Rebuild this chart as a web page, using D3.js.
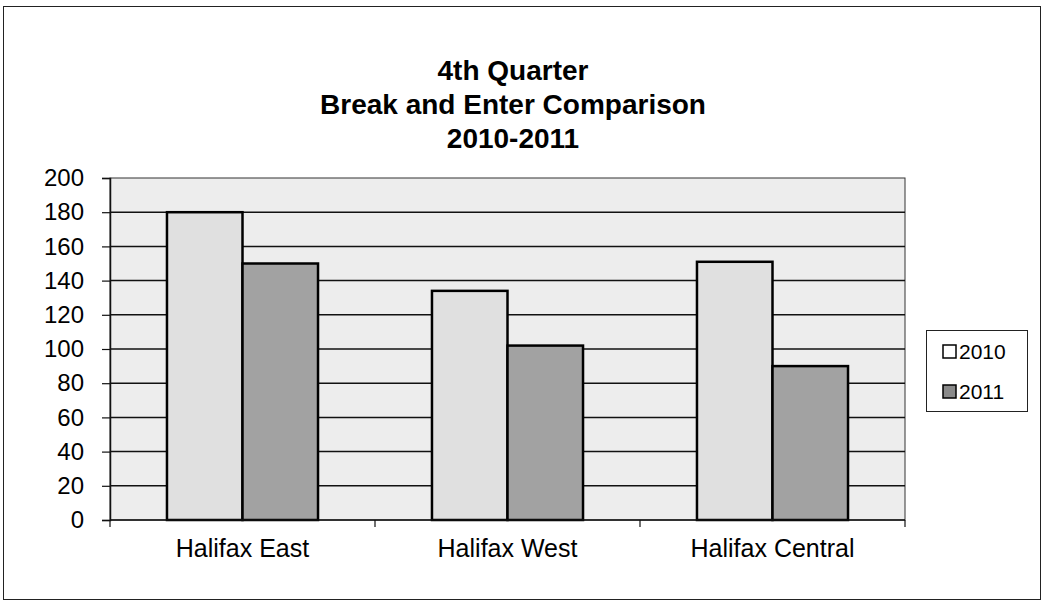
<!DOCTYPE html>
<html>
<head>
<meta charset="utf-8">
<script src="https://cdn.jsdelivr.net/npm/d3@7"></script>
<style>
  body { margin: 0; background: #fff; }
  text { font-family: "Liberation Sans", Arial, sans-serif; fill: #000; }
</style>
</head>
<body>
<svg id="chart"></svg>
<script>
// chart data
var categories = ["Halifax East", "Halifax West", "Halifax Central"];
var seriesNames = ["2010", "2011"];
var values2010 = [180, 134, 151];
var values2011 = [150, 102, 90];
var yTicks = [0, 20, 40, 60, 80, 100, 120, 140, 160, 180, 200];
var titleLines = ["4th Quarter", "Break and Enter Comparison", "2010-2011"];

var width = 1044, height = 611;
var plot = { left: 110, right: 905, top: 178, bottom: 520 };
var fills = { "2010": "#e0e0e0", "2011": "#a2a2a2" };

var svg = d3.select("#chart").attr("width", width).attr("height", height);

// outer chart frame
svg.append("rect")
    .attr("x", 3.5).attr("y", 6.5)
    .attr("width", 1037).attr("height", 593)
    .attr("fill", "#fff").attr("stroke", "#222").attr("stroke-width", 1);

// title
svg.selectAll("text.title")
    .data(titleLines)
    .enter().append("text")
    .attr("class", "title")
    .attr("x", 513)
    .attr("y", function(d, i) { return 80 + i * 34; })
    .attr("text-anchor", "middle")
    .attr("font-size", 28)
    .attr("font-weight", "bold")
    .text(function(d) { return d; });

// scales
var y = d3.scaleLinear().domain([0, 200]).range([plot.bottom, plot.top]);
var x0 = d3.scaleBand().domain(categories)
    .range([plot.left, plot.right])
    .paddingInner(0.43).paddingOuter(0.215);
var x1 = d3.scaleBand().domain(seriesNames).range([0, x0.bandwidth()]);

// plot area background
svg.append("rect")
    .attr("x", plot.left).attr("y", plot.top)
    .attr("width", plot.right - plot.left).attr("height", plot.bottom - plot.top)
    .attr("fill", "#ededed").attr("stroke", "#333").attr("stroke-width", 1);

// gridlines
svg.append("g")
    .selectAll("line")
    .data(yTicks.filter(function(d) { return d > 0 && d < 200; }))
    .enter().append("line")
    .attr("x1", plot.left).attr("x2", plot.right)
    .attr("y1", function(d) { return y(d); })
    .attr("y2", function(d) { return y(d); })
    .attr("stroke", "#111").attr("stroke-width", 1.5);

// y axis
var yAxis = d3.axisLeft(y).tickValues(yTicks).tickSize(8).tickPadding(18);
var gy = svg.append("g").attr("transform", "translate(" + plot.left + ",0)").call(yAxis);
gy.select(".domain").attr("stroke", "#111").attr("stroke-width", 1.5);
gy.selectAll(".tick line").attr("stroke", "#111").attr("stroke-width", 1.2);
gy.selectAll(".tick text")
    .attr("font-size", 24)
    .attr("font-family", "Liberation Sans, Arial, sans-serif")
    .attr("fill", "#000");

// bars
var groups = svg.append("g")
    .selectAll("g")
    .data(categories)
    .enter().append("g")
    .attr("transform", function(d) { return "translate(" + x0(d) + ",0)"; });

groups.selectAll("rect")
    .data(function(d, i) {
        return [
            { series: "2010", value: values2010[i] },
            { series: "2011", value: values2011[i] }
        ];
    })
    .enter().append("rect")
    .attr("x", function(d) { return x1(d.series); })
    .attr("y", function(d) { return y(d.value); })
    .attr("width", x1.bandwidth())
    .attr("height", function(d) { return y(0) - y(d.value); })
    .attr("fill", function(d) { return fills[d.series]; })
    .attr("stroke", "#000").attr("stroke-width", 2.5);

// x axis with ticks between categories
svg.append("line")
    .attr("x1", plot.left).attr("x2", plot.right)
    .attr("y1", y(0)).attr("y2", y(0))
    .attr("stroke", "#111").attr("stroke-width", 1.5);

var bounds = categories.map(function(d) { return x0(d) - x0.step() * x0.paddingInner() / 2; });
bounds.push(plot.right);
svg.append("g")
    .selectAll("line")
    .data(bounds)
    .enter().append("line")
    .attr("x1", function(d) { return d; }).attr("x2", function(d) { return d; })
    .attr("y1", y(0)).attr("y2", y(0) + 7)
    .attr("stroke", "#111").attr("stroke-width", 1.2);

svg.append("g")
    .selectAll("text")
    .data(categories)
    .enter().append("text")
    .attr("x", function(d) { return x0(d) + x0.bandwidth() / 2; })
    .attr("y", 557)
    .attr("text-anchor", "middle")
    .attr("font-size", 25)
    .text(function(d) { return d; });

// legend
var legend = svg.append("g");
legend.append("rect")
    .attr("x", 926.5).attr("y", 330.5)
    .attr("width", 101).attr("height", 81)
    .attr("fill", "#fff").attr("stroke", "#222").attr("stroke-width", 1);

var items = legend.selectAll("g")
    .data(seriesNames)
    .enter().append("g")
    .attr("transform", function(d, i) { return "translate(0," + (i * 40) + ")"; });

items.append("rect")
    .attr("x", 943).attr("y", 345)
    .attr("width", 13).attr("height", 13)
    .attr("fill", function(d) { return d == "2010" ? "#fff" : "#8a8a8a"; })
    .attr("stroke", "#000").attr("stroke-width", 1.5);

items.append("text")
    .attr("x", 959).attr("y", 359)
    .attr("font-size", 21)
    .text(function(d) { return d; });
</script>
</body>
</html>
